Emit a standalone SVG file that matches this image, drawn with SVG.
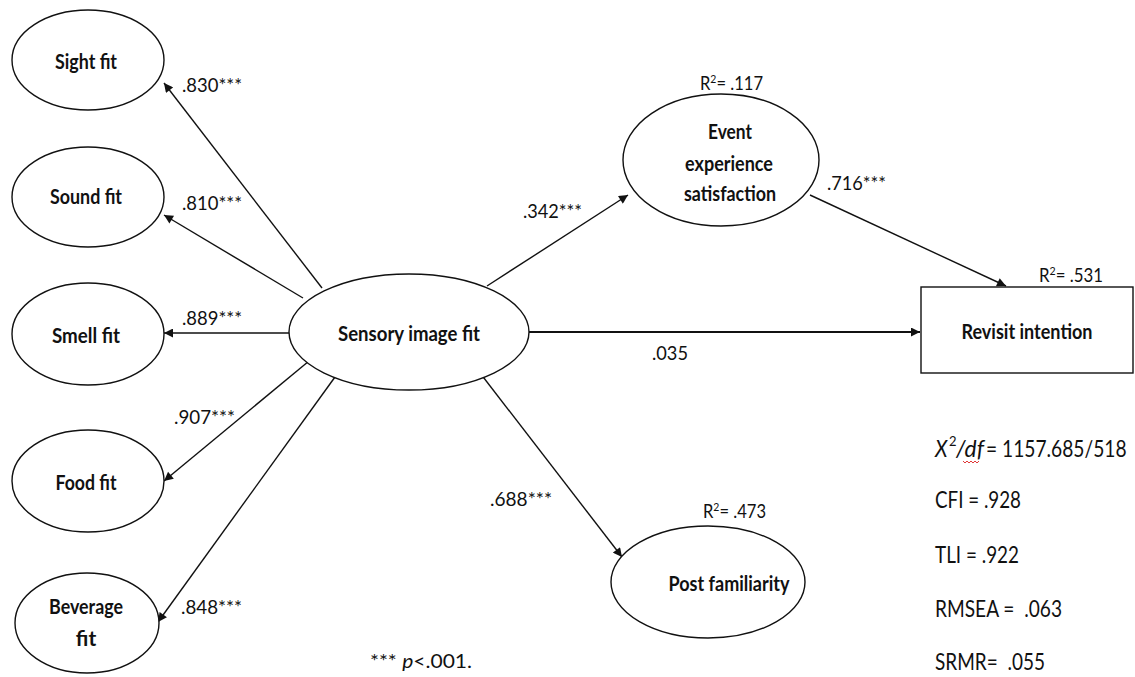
<svg xmlns="http://www.w3.org/2000/svg" width="1135" height="677" viewBox="0 0 1135 677">
<style>
.node{fill:#fff;stroke:#111;stroke-width:1.4}
.lbl{font-family:Lato,"Liberation Sans",sans-serif;font-weight:bold;font-size:21px;fill:#111;text-anchor:middle}
.num{font-family:Lato,"Liberation Sans",sans-serif;font-size:19px;fill:#111}
.stat{font-family:Lato,"Liberation Sans",sans-serif;font-size:24px;fill:#111;white-space:pre}
.sup{font-family:Lato,"Liberation Sans",sans-serif;font-size:13px;fill:#111}
.edge{stroke:#111;stroke-width:1.4;fill:none;marker-end:url(#ah)}
</style>
<defs>
<marker id="ah" viewBox="0 0 10 10" refX="10" refY="5" markerWidth="11" markerHeight="9" markerUnits="userSpaceOnUse" orient="auto">
<path d="M0,0 L10,5 L0,10 z" fill="#111"/>
</marker>
</defs>
<rect width="1135" height="677" fill="#fff"/>

<g id="connectors">
<line class="edge" x1="322" y1="288" x2="164" y2="83"/>
<line class="edge" x1="303" y1="298" x2="164" y2="215"/>
<line class="edge" x1="290" y1="333" x2="164" y2="333"/>
<line class="edge" x1="309" y1="361" x2="164" y2="481"/>
<line class="edge" x1="335" y1="377" x2="158" y2="622"/>
<line class="edge" x1="487" y1="286" x2="628" y2="195"/>
<line class="edge" x1="529" y1="332" x2="920" y2="332" style="stroke-width:1.8"/>
<line class="edge" x1="810" y1="195" x2="1006" y2="286"/>
<line class="edge" x1="477" y1="369" x2="622" y2="557"/>
</g>

<g id="sight">
<ellipse class="node" cx="88" cy="60" rx="76" ry="50"/>
<text class="lbl" x="86" y="69" textLength="62" lengthAdjust="spacingAndGlyphs">Sight fit</text>
</g>
<g id="sound">
<ellipse class="node" cx="88" cy="197" rx="76" ry="50"/>
<text class="lbl" x="86" y="204" textLength="72" lengthAdjust="spacingAndGlyphs">Sound fit</text>
</g>
<g id="smell">
<ellipse class="node" cx="88" cy="334" rx="76" ry="51"/>
<text class="lbl" x="86" y="343" textLength="68" lengthAdjust="spacingAndGlyphs">Smell fit</text>
</g>
<g id="food">
<ellipse class="node" cx="88" cy="481" rx="76" ry="51"/>
<text class="lbl" x="86" y="490" textLength="61" lengthAdjust="spacingAndGlyphs">Food fit</text>
</g>
<g id="beverage">
<ellipse class="node" cx="87" cy="623" rx="72" ry="50"/>
<text class="lbl" x="86" y="614" textLength="74" lengthAdjust="spacingAndGlyphs">Beverage</text>
<text class="lbl" x="86" y="646">fit</text>
</g>
<g id="sensory">
<ellipse class="node" cx="409" cy="332" rx="120" ry="58"/>
<text class="lbl" x="409" y="341" textLength="142" lengthAdjust="spacingAndGlyphs">Sensory image fit</text>
</g>
<g id="event">
<ellipse class="node" cx="721" cy="160" rx="98" ry="66"/>
<text class="lbl" x="730" y="139" textLength="44" lengthAdjust="spacingAndGlyphs">Event</text>
<text class="lbl" x="729" y="171" textLength="88" lengthAdjust="spacingAndGlyphs">experience</text>
<text class="lbl" x="730" y="201" textLength="92" lengthAdjust="spacingAndGlyphs">satisfaction</text>
<text class="num" x="700" y="90" textLength="63" lengthAdjust="spacingAndGlyphs">R<tspan style="font-size:12px" dy="-7">2</tspan><tspan dy="7">= .117</tspan></text>
</g>
<g id="revisit">
<rect class="node" x="921" y="287" width="212" height="86"/>
<text class="lbl" x="1027" y="339" textLength="131" lengthAdjust="spacingAndGlyphs">Revisit intention</text>
<text class="num" x="1039" y="282" textLength="64" lengthAdjust="spacingAndGlyphs">R<tspan style="font-size:12px" dy="-7">2</tspan><tspan dy="7">= .531</tspan></text>
</g>
<g id="post">
<ellipse class="node" cx="708" cy="582" rx="97" ry="56"/>
<text class="lbl" x="729" y="591" textLength="121" lengthAdjust="spacingAndGlyphs">Post familiarity</text>
<text class="num" x="703" y="518" textLength="63" lengthAdjust="spacingAndGlyphs">R<tspan style="font-size:12px" dy="-7">2</tspan><tspan dy="7">= .473</tspan></text>
</g>

<g id="edge-labels">
<text class="num" x="182" y="92" textLength="60" lengthAdjust="spacingAndGlyphs">.830***</text>
<text class="num" x="182" y="210" textLength="60" lengthAdjust="spacingAndGlyphs">.810***</text>
<text class="num" x="182" y="325" textLength="60" lengthAdjust="spacingAndGlyphs">.889***</text>
<text class="num" x="174" y="424" textLength="61" lengthAdjust="spacingAndGlyphs">.907***</text>
<text class="num" x="181" y="614" textLength="61" lengthAdjust="spacingAndGlyphs">.848***</text>
<text class="num" x="523" y="218" textLength="59" lengthAdjust="spacingAndGlyphs">.342***</text>
<text class="num" x="827" y="190" textLength="59" lengthAdjust="spacingAndGlyphs">.716***</text>
<text class="num" x="652" y="360" textLength="36" lengthAdjust="spacingAndGlyphs">.035</text>
<text class="num" x="490" y="506" textLength="62" lengthAdjust="spacingAndGlyphs">.688***</text>
</g>

<g id="notes">
<text class="num" x="370" y="668" textLength="102" lengthAdjust="spacingAndGlyphs">*** <tspan font-style="italic">p</tspan>&lt;.001.</text>
<text class="stat" transform="translate(935,457) scale(0.85,1)" x="0" y="0" font-style="italic">X</text>
<text class="sup" x="949" y="446">2</text>
<text class="stat" x="956" y="457" font-style="italic" textLength="28" lengthAdjust="spacingAndGlyphs">/df</text>
<text class="stat" transform="translate(986,457) scale(0.8,1)" x="0" y="0">= 1157.685/518</text>
<path d="M963,461 l2,2 l2,-2 l2,2 l2,-2 l2,2 l2,-2 l2,2 l2,-2" stroke="#d22" stroke-width="0.9" fill="none"/>
<text class="stat" x="935" y="508" textLength="86" lengthAdjust="spacingAndGlyphs">CFI = .928</text>
<text class="stat" x="935" y="563" textLength="84" lengthAdjust="spacingAndGlyphs">TLI = .922</text>
<text class="stat" x="935" y="617" textLength="127" lengthAdjust="spacingAndGlyphs">RMSEA =  .063</text>
<text class="stat" x="935" y="670" textLength="110" lengthAdjust="spacingAndGlyphs">SRMR=  .055</text>
</g>
</svg>
